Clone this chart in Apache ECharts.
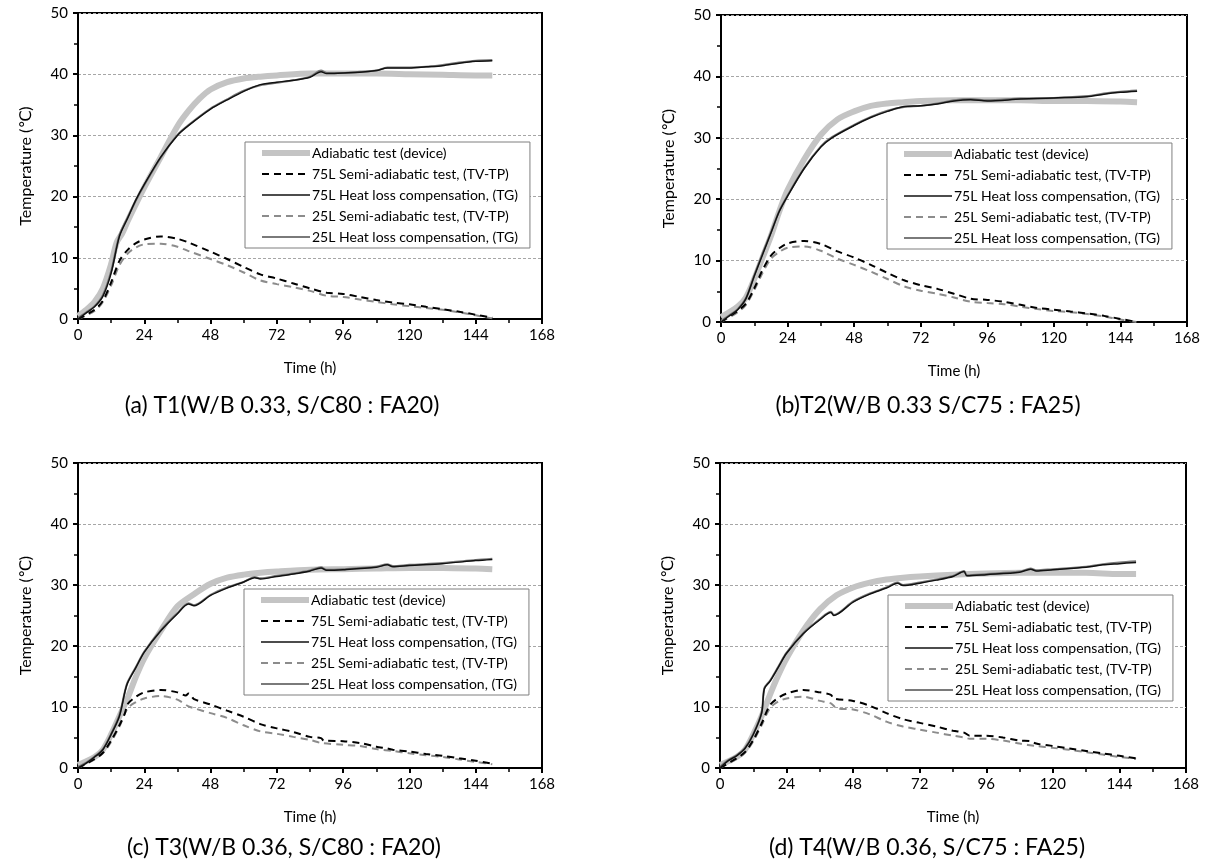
<!DOCTYPE html>
<html>
<head>
<meta charset="utf-8">
<script src="https://cdn.jsdelivr.net/npm/echarts@6/dist/echarts.min.js"></script>
<style>
html,body{margin:0;padding:0;background:#fff;}
#chart{width:1205px;height:867px;}
</style>
</head>
<body>
<div id="chart"></div>
<script>
// ---- Data (time in h, temperature in °C) ----
const xTicks = [0, 24, 48, 72, 96, 120, 144, 168];
const yTicks = [0, 10, 20, 30, 40, 50];
const seriesNames = [
  'Adiabatic test (device)',
  '75L Semi-adiabatic test, (TV-TP)',
  '75L Heat loss compensation, (TG)',
  '25L Semi-adiabatic test, (TV-TP)',
  '25L Heat loss compensation, (TG)'
];
const captions = [
  '(a) T1(W/B 0.33, S/C80 : FA20)',
  '(b)T2(W/B 0.33 S/C75 : FA25)',
  '(c) T3(W/B 0.36, S/C80 : FA20)',
  '(d) T4(W/B 0.36, S/C75 : FA25)'
];

// Panel (a)
const a_adiabatic = [[0,0.5],[3,1.5],[6,2.8],[9,5],[12,9],[14,12.5],[16,14],[18,16],[21,18.8],[24,21.5],[30,26.5],[36,31.5],[40,34],[44,36],[48,37.5],[54,38.7],[60,39.3],[66,39.6],[72,39.8],[84,40.1],[96,40.1],[108,40.1],[120,40.0],[132,39.9],[144,39.8],[150,39.8]];
const a_semi75 = [[0,0],[6,1.5],[9,3],[12,6],[15,9.5],[18,11.3],[21,12.4],[24,13],[30,13.5],[36,13.1],[40,12.5],[48,11],[54,9.8],[60,8.5],[66,7.3],[72,6.6],[78,5.8],[84,5],[90,4.3],[96,4.1],[102,3.6],[108,3.1],[114,2.7],[120,2.4],[126,2.0],[132,1.6],[138,1.2],[144,0.7],[150,0.2]];
const a_hlc75 = [[0,0],[3,1],[6,2],[9,3.7],[12,7.5],[15,13.5],[18,16.5],[21,19.5],[24,22],[30,26.5],[36,30],[40,31.6],[48,34.3],[54,35.8],[60,37.2],[66,38.3],[72,38.7],[78,39.0],[84,39.5],[88,40.4],[90,40.1],[96,40.2],[102,40.3],[108,40.6],[112,41.0],[120,41],[126,41.2],[132,41.4],[138,41.8],[144,42.1],[150,42.2]];
const a_semi25 = [[0,0],[6,1.3],[9,2.8],[12,5.5],[15,8.8],[18,10.7],[21,11.7],[24,12.2],[30,12.3],[36,11.8],[40,11.1],[48,9.8],[54,8.8],[60,7.6],[66,6.3],[72,5.7],[78,5.2],[84,4.6],[90,3.8],[96,3.6],[102,3.2],[108,2.8],[114,2.4],[120,2.1],[126,1.8],[132,1.5],[138,1.1],[144,0.6],[150,0.1]];
const a_hlc25 = [[0,0.2],[3,1.1],[6,2.1],[9,3.9],[12,7.8],[15,13.7],[18,16.6],[21,19.4],[24,21.9],[30,26.4],[36,30.1],[40,31.7],[48,34.4],[54,35.9],[60,37.3],[66,38.2],[72,38.6],[78,39.0],[84,39.6],[88,40.6],[90,40.2],[96,40.2],[102,40.4],[108,40.6],[112,41.1],[120,41.1],[126,41.2],[132,41.5],[138,41.9],[144,42.2],[150,42.3]];

// Panel (b)
const b_adiabatic = [[0,0.8],[6,2.5],[9,4],[12,7],[15,10.5],[18,14],[21,18],[24,21.5],[30,26.5],[36,30.5],[42,33],[48,34.3],[54,35.2],[60,35.6],[66,35.8],[72,36],[84,36.1],[96,36.1],[108,36.1],[120,36.0],[132,36.0],[144,35.9],[150,35.8]];
const b_semi75 = [[0,0],[6,1.8],[9,3],[12,5.5],[15,8.5],[18,10.8],[21,12.0],[24,12.8],[30,13.2],[36,12.7],[42,11.5],[48,10.5],[54,9.3],[60,8.0],[66,6.8],[72,6.0],[78,5.4],[84,4.6],[90,3.8],[96,3.6],[102,3.3],[108,2.8],[114,2.3],[120,2.0],[126,1.7],[132,1.4],[138,1.0],[144,0.5],[150,0.0]];
const b_hlc75 = [[0,0],[3,1],[6,2],[9,3.8],[12,7.5],[15,11],[18,14.5],[21,18],[24,20.5],[30,25],[36,28.5],[40,30],[48,32],[54,33.3],[60,34.3],[66,35.1],[72,35.2],[78,35.5],[84,36],[90,36.2],[96,36.0],[108,36.3],[120,36.5],[132,36.7],[138,37.1],[144,37.4],[150,37.6]];
const b_semi25 = [[0,0],[6,1.6],[9,2.8],[12,5.2],[15,8.0],[18,10.3],[21,11.4],[24,12.1],[30,12.3],[36,11.6],[42,10.3],[48,9.3],[54,8.2],[60,7.0],[66,5.8],[72,5.1],[78,4.6],[84,4.0],[90,3.3],[96,3.1],[102,2.9],[108,2.5],[114,2.1],[120,1.8],[126,1.6],[132,1.3],[138,0.9],[144,0.4],[150,0.0]];
const b_hlc25 = [[0,0.2],[3,1.1],[6,2.1],[9,3.9],[12,7.6],[15,11.2],[18,14.6],[21,18.1],[24,20.6],[30,25.1],[36,28.6],[40,30.1],[48,32.1],[54,33.4],[60,34.4],[66,35.0],[72,35.2],[78,35.6],[84,36.1],[90,36.3],[96,36.1],[108,36.4],[120,36.5],[132,36.8],[138,37.2],[144,37.5],[150,37.7]];

// Panel (c)
const c_adiabatic = [[0,0.5],[6,1.8],[9,3],[12,5.5],[15,8.5],[18,11.5],[21,15],[24,18],[30,22.5],[36,26.5],[42,28.5],[48,30.2],[54,31.2],[60,31.7],[66,32],[72,32.2],[84,32.5],[96,32.6],[108,32.7],[120,32.8],[132,32.8],[144,32.7],[150,32.6]];
const c_semi75 = [[0,0],[6,1.5],[9,2.5],[12,4.5],[15,7],[17,9],[18,10.5],[21,11.7],[24,12.4],[30,12.8],[36,12.4],[39,11.9],[40,12.2],[42,11.3],[48,10.4],[54,9.4],[60,8.4],[66,7.2],[72,6.5],[78,5.9],[84,5.1],[88,4.9],[89,4.5],[96,4.4],[102,4.1],[108,3.5],[112,3.2],[114,3.0],[120,2.7],[126,2.3],[132,2.0],[138,1.6],[144,1.2],[150,0.7]];
const c_hlc75 = [[0,0],[3,0.8],[6,1.8],[9,3],[12,5.5],[15,8.5],[17,12.5],[18,14],[21,16.5],[24,19],[30,22.5],[36,25.3],[40,26.9],[42,26.6],[48,28.3],[54,29.5],[60,30.5],[64,31.2],[66,31.0],[72,31.4],[78,31.8],[84,32.3],[88,32.8],[90,32.4],[96,32.5],[108,32.9],[112,33.3],[114,33.0],[120,33.2],[132,33.5],[144,34.0],[150,34.2]];
const c_semi25 = [[0,0],[6,1.4],[9,2.4],[12,4.3],[15,6.8],[18,9.8],[21,10.8],[24,11.4],[30,11.8],[36,11.2],[40,10.1],[42,9.8],[48,9.0],[54,8.2],[60,7.0],[66,6.0],[72,5.6],[78,5.1],[84,4.6],[88,4.1],[96,3.8],[102,3.6],[108,3.1],[114,2.8],[120,2.4],[126,2.1],[132,1.8],[138,1.4],[144,1.0],[150,0.6]];
const c_hlc25 = [[0,0.2],[3,0.9],[6,1.9],[9,3.1],[12,5.6],[15,8.7],[17,12.6],[18,14.1],[21,16.6],[24,19.1],[30,22.6],[36,25.4],[40,27.0],[42,26.7],[48,28.4],[54,29.6],[60,30.5],[64,31.3],[66,31.1],[72,31.5],[78,31.9],[84,32.4],[88,32.9],[90,32.5],[96,32.6],[108,33.0],[112,33.4],[114,33.1],[120,33.3],[132,33.6],[144,34.1],[150,34.3]];

// Panel (d)
const d_adiabatic = [[0,0.5],[6,1.8],[9,3],[12,5.5],[15,8.5],[18,12],[21,15.2],[24,18],[30,22.5],[36,26],[42,28.3],[48,29.6],[54,30.4],[60,30.9],[66,31.2],[72,31.4],[84,31.7],[96,31.9],[108,32.0],[120,32.0],[132,32.0],[144,31.8],[150,31.8]];
const d_semi75 = [[0,0],[6,1.6],[9,2.6],[12,4.6],[15,7.3],[18,10.3],[21,11.5],[24,12.2],[30,12.8],[36,12.4],[40,12.0],[41,11.4],[48,11.0],[54,10.2],[60,9.0],[66,8.0],[72,7.4],[78,6.8],[84,6.1],[88,5.8],[90,5.3],[96,5.3],[102,5.0],[108,4.5],[112,4.4],[114,4.0],[120,3.6],[126,3.2],[132,2.8],[138,2.4],[144,2.0],[150,1.6]];
const d_hlc75 = [[0,0],[3,1.2],[6,2],[9,3.2],[12,5.5],[15,9],[16,13],[18,14.2],[21,16.5],[24,18.8],[30,22],[36,24.3],[40,25.5],[41,25.0],[48,27.2],[54,28.5],[60,29.5],[64,30.3],[66,29.9],[72,30.3],[78,30.8],[84,31.4],[88,32.2],[89,31.5],[96,31.7],[108,32.1],[112,32.6],[114,32.3],[120,32.5],[132,32.9],[138,33.3],[144,33.5],[150,33.7]];
const d_semi25 = [[0,0],[6,1.5],[9,2.5],[12,4.4],[15,7.0],[18,9.8],[21,10.9],[24,11.4],[30,11.7],[36,11.0],[40,10.6],[42,9.8],[48,9.6],[54,8.8],[60,7.6],[66,6.8],[72,6.3],[78,5.8],[84,5.3],[88,5.0],[90,4.8],[96,4.8],[102,4.5],[108,4.0],[114,3.6],[120,3.3],[126,3.0],[132,2.6],[138,2.2],[144,1.8],[150,1.5]];
const d_hlc25 = [[0,0.2],[3,1.3],[6,2.1],[9,3.3],[12,5.6],[15,9.1],[16,13.1],[18,14.3],[21,16.6],[24,18.9],[30,22.1],[36,24.4],[40,25.6],[41,25.1],[48,27.3],[54,28.6],[60,29.6],[64,30.4],[66,30.0],[72,30.4],[78,30.9],[84,31.5],[88,32.3],[89,31.6],[96,31.8],[108,32.2],[112,32.7],[114,32.4],[120,32.6],[132,33.0],[138,33.4],[144,33.7],[150,33.9]];

const panels = [
  {adi:a_adiabatic, s75:a_semi75, h75:a_hlc75, s25:a_semi25, h25:a_hlc25},
  {adi:b_adiabatic, s75:b_semi75, h75:b_hlc75, s25:b_semi25, h25:b_hlc25},
  {adi:c_adiabatic, s75:c_semi75, h75:c_hlc75, s25:c_semi25, h25:c_hlc25},
  {adi:d_adiabatic, s75:d_semi75, h75:d_hlc75, s25:d_semi25, h25:d_hlc25}
];

// ---- Layout ----
const FONT = 'Lato, "Open Sans", "DejaVu Sans", sans-serif';
const gridBoxes = [
  {left:78, top:13, width:464, height:306},
  {left:721, top:15, width:466, height:307},
  {left:78, top:463, width:464, height:305},
  {left:720, top:463, width:466, height:305}
];
const legendPos = [
  {left:245, top:142},
  {left:887, top:143},
  {left:244, top:589},
  {left:888, top:595}
];
const captionPos = [[282,406],[928,406],[284,848],[927,848]];

const chart = echarts.init(document.getElementById('chart'), null, {renderer:'canvas'});

const grids = [], xAxes = [], yAxes = [], series = [], legends = [], graphics = [];
gridBoxes.forEach((g, i) => {
  grids.push(Object.assign({show:true, borderColor:'#000', borderWidth:2, backgroundColor:'transparent', containLabel:false}, g));
  xAxes.push({
    type:'value', gridIndex:i, min:xTicks[0], max:xTicks[xTicks.length-1], interval:24,
    name:'Time (h)', nameLocation:'middle', nameGap:42,
    nameTextStyle:{fontFamily:FONT, fontSize:15, color:'#000'},
    axisLine:{show:true, onZero:false, lineStyle:{color:'#000', width:2}},
    axisTick:{show:true, length:5, lineStyle:{color:'#000', width:2}},
    minorTick:{show:true, splitNumber:2, length:4, lineStyle:{color:'#000', width:1.5}},
    axisLabel:{fontFamily:FONT, fontSize:15, color:'#000', margin:9},
    splitLine:{show:false}
  });
  yAxes.push({
    type:'value', gridIndex:i, min:yTicks[0], max:yTicks[yTicks.length-1], interval:10,
    name:'Temperature (℃)', nameLocation:'middle', nameGap:44, nameRotate:90,
    nameTextStyle:{fontFamily:FONT, fontSize:16, color:'#000'},
    axisLine:{show:true, onZero:false, lineStyle:{color:'#000', width:2}},
    axisTick:{show:true, length:5, lineStyle:{color:'#000', width:2}},
    minorTick:{show:true, splitNumber:2, length:4, lineStyle:{color:'#000', width:1.5}},
    axisLabel:{fontFamily:FONT, fontSize:15, color:'#000', margin:10},
    splitLine:{show:true, lineStyle:{color:'#a6a6a6', width:1, type:[3,2]}}
  });
  const p = panels[i];
  const mk = (name, data, color, width, dashed, z) => ({
    type:'line', name, data, xAxisIndex:i, yAxisIndex:i, showSymbol:false, symbol:'none',
    smooth:0.3, z, animation:false,
    lineStyle:{color, width, type: dashed ? [7,5] : 'solid', cap:'butt'},
    itemStyle:{color}
  });
  series.push(mk(seriesNames[0], p.adi, '#c4c4c4', 6, false, 2));
  series.push(mk(seriesNames[3], p.s25, '#8c8c8c', 2, true, 3));
  series.push(mk(seriesNames[1], p.s75, '#000000', 2, true, 4));
  series.push(mk(seriesNames[4], p.h25, '#7a7a7a', 2, false, 5));
  series.push(mk(seriesNames[2], p.h75, '#111111', 1.5, false, 6));
  legends.push({
    show:true, orient:'vertical', left:legendPos[i].left, top:legendPos[i].top,
    data:seriesNames.slice(), selectedMode:false,
    itemWidth:48, itemHeight:14, itemGap:7,
    padding:[4, 12, 4, 14],
    itemStyle:{opacity:0, borderWidth:0},
    lineStyle:{width:'inherit', type:'inherit', color:'inherit'},
    borderColor:'#7f7f7f', borderWidth:1, backgroundColor:'#fff',
    textStyle:{fontFamily:FONT, fontSize:14, color:'#000', padding:[0,0,0,-3]}
  });
  graphics.push({
    type:'text', x:captionPos[i][0], y:captionPos[i][1],
    style:{text:captions[i], font:'23px ' + FONT, fill:'#000', textAlign:'center', textVerticalAlign:'middle'}
  });
});

chart.setOption({
  backgroundColor:'#fff',
  animation:false,
  grid:grids, xAxis:xAxes, yAxis:yAxes, legend:legends, series:series, graphic:graphics
});
</script>
</body>
</html>
